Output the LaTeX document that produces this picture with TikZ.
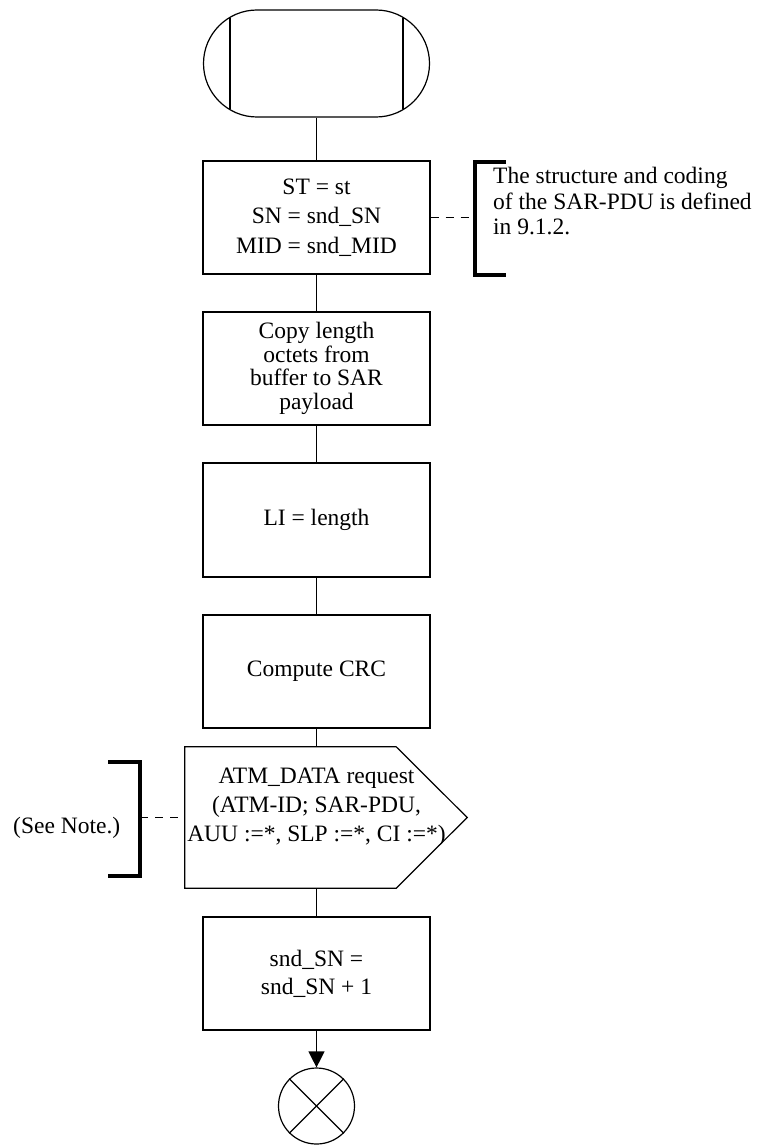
\documentclass[tikz,border=0pt]{standalone}
\usepackage{fontspec}
\setmainfont{Liberation Serif}
\usetikzlibrary{shapes.misc,arrows.meta,calc}
\begin{document}
\begin{tikzpicture}[x=1pt,y=-1pt,
  thin/.style={line width=1.2pt},
  stepbox/.style={draw,thin,minimum width=227pt,minimum height=113pt,inner sep=0pt,align=center},
  f1/.style={font={\fontsize{23.5}{29.5}\selectfont}},
  f2/.style={font={\fontsize{23.5}{23.5}\selectfont}},
  f3/.style={font={\fontsize{23.5}{28}\selectfont}},
  fo/.style={font={\fontsize{23.5}{29}\selectfont}},
  fn/.style={font={\fontsize{23.5}{25.5}\selectfont}},
  bracket/.style={line width=4pt},
  dashline/.style={line width=1.6pt,dash pattern=on 8pt off 7pt},
  arr/.style={thin,-{Triangle[width=16pt,length=16pt]}}]
\useasboundingbox (0,0) rectangle (759,1145);
% start terminal
\node[draw,thin,rounded rectangle,minimum width=226pt,minimum height=107pt,inner sep=0pt] (start) at (316.5,63.5) {};
\draw[thin] (230,17.6) -- (230,109.4);
\draw[thin] (403,17.6) -- (403,109.4);
% task boxes
\node[stepbox,f1] (b1) at (316.5,217.5) {ST = st\\SN = snd\_SN\\MID = snd\_MID};
\node[stepbox,f2] (b2) at (316.5,368.5) {Copy length\\octets from\\buffer to SAR\\payload};
\node[stepbox,f1,minimum height=114pt] (b3) at (316.5,520) {LI = length};
\node[stepbox,f1] (b4) at (316.5,671.5) {Compute CRC};
% output signal
\node[minimum width=211pt,minimum height=141pt,inner sep=0pt] (out) at (290.5,817.5) {};
\draw[thin] (out.north west) -- (out.north east) -- ($(out.east)+(71,0)$) -- (out.south east) -- (out.south west) -- cycle;
\node[fo,align=center,inner sep=0pt,anchor=north] (outtxt) at (316.5,767.5) {ATM\_DATA request\\(ATM-ID; SAR-PDU,\\AUU :=*, SLP :=*, CI :=*)};
\node[stepbox,f3] (b5) at (316.5,973.5) {snd\_SN =\\snd\_SN + 1};
% end
\node[draw,thin,circle,minimum size=76pt,inner sep=0pt] (end) at (316.5,1106) {};
\draw[thin] (end.45) -- (end.225);
\draw[thin] (end.135) -- (end.-45);
% connectors
\draw[thin] (start.south) -- (b1.north);
\draw[thin] (b1.south) -- (b2.north);
\draw[thin] (b2.south) -- (b3.north);
\draw[thin] (b3.south) -- (b4.north);
\draw[thin] (b4.south) -- (b4.south |- out.north);
\draw[thin] (b5.north |- out.south) -- (b5.north);
\draw[arr] (b5.south) -- (end.north);
% right note
\node[fn,align=left,inner sep=0pt,anchor=north west] (note) at (493,167) {The structure and coding\\of the SAR-PDU is defined\\in 9.1.2.};
\coordinate (nb) at (475,219);
\draw[bracket] (506,162) -- (475,162) -- (475,275) -- (506,275);
\draw[dashline] (b1.east) -- (b1.east -| nb);
% left note
\node[fn,inner sep=0pt,anchor=base west] (see) at (13,833) {(See Note.)};
\coordinate (lb) at (140,817.5);
\draw[bracket] (108,762) -- (140,762) -- (140,876) -- (108,876);
\draw[dashline] (lb) -- (out.west);
\end{tikzpicture}
\end{document}
